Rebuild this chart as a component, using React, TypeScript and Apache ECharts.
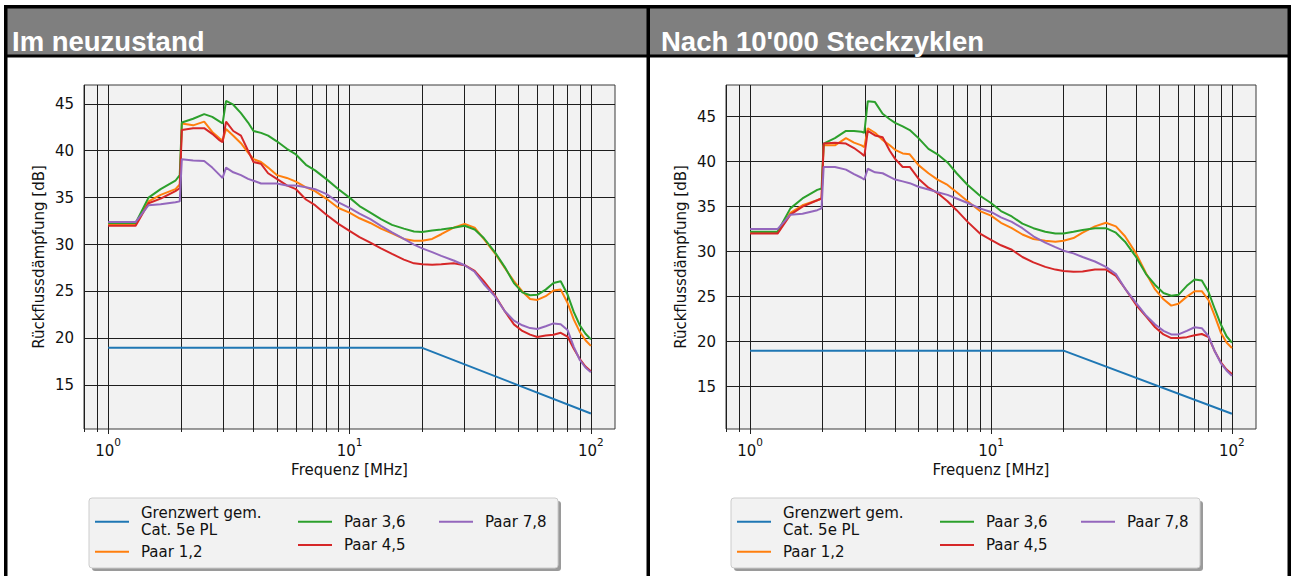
import React, { useEffect, useRef } from "react";
import * as echarts from "echarts";

const freqMHz = [1.0, 1.3, 1.47, 1.65, 1.9, 1.98, 2.02, 2.25, 2.5, 2.7, 2.9, 2.98, 3.08, 3.3, 3.55, 3.8, 4.0, 4.3, 4.6, 5.0, 5.5, 6.0, 6.6, 7.2, 8.0, 9.0, 10, 11, 12.2, 13.5, 15, 16.8, 18.5, 20, 22, 24, 27, 30, 33, 36, 40, 44, 48, 52, 56, 60, 65, 70, 75, 80, 85, 90, 95, 100];

// Limit line (Cat. 5e PL)
const limitFreq = [1, 20, 100];
const limitDb = [19, 19, 12];

// Panel 1: Im neuzustand
const neuPaar12 = [32.2, 32.2, 34.6, 35.3, 35.9, 36.4, 42.9, 42.7, 43.1, 42.0, 41.3, 41.1, 42.3, 41.6, 40.8, 39.8, 39.1, 38.8, 38.2, 37.4, 37.1, 36.7, 36.1, 35.7, 34.9, 33.9, 33.4, 32.8, 32.3, 31.7, 31.2, 30.6, 30.4, 30.4, 30.6, 31.1, 31.8, 32.2, 31.8, 30.6, 29.1, 27.5, 26.1, 25.0, 24.2, 24.1, 24.5, 25.1, 25.2, 23.8, 22.0, 20.7, 19.8, 19.2];
const neuPaar36 = [32.3, 32.3, 35.0, 35.9, 36.8, 37.4, 43.0, 43.4, 43.9, 43.6, 43.1, 42.9, 45.3, 44.9, 44.0, 43.0, 42.1, 41.9, 41.6, 41.0, 40.2, 39.6, 38.5, 37.9, 37.0, 35.9, 35.0, 34.1, 33.4, 32.7, 32.1, 31.7, 31.4, 31.35, 31.5, 31.6, 31.8, 32.0, 31.6, 30.7, 29.2, 27.6, 25.9, 24.9, 24.6, 24.65, 25.2, 25.9, 26.1, 24.7, 22.8, 21.4, 20.5, 19.9];
const neuPaar45 = [32.0, 32.0, 34.4, 34.9, 35.7, 36.0, 42.2, 42.4, 42.4, 41.8, 41.1, 40.9, 43.1, 42.1, 41.6, 40.0, 38.8, 38.6, 37.6, 37.0, 36.3, 35.9, 34.8, 34.2, 33.2, 32.2, 31.45, 30.8, 30.2, 29.6, 29.0, 28.4, 28.0, 27.9, 27.85, 27.9, 28.0, 27.8, 27.2, 26.1, 24.6, 22.9, 21.5, 20.8, 20.4, 20.15, 20.3, 20.4, 20.6, 20.2, 18.9, 17.8, 17.0, 16.5];
const neuPaar78 = [32.4, 32.4, 34.2, 34.3, 34.5, 34.6, 39.1, 38.95, 38.9, 38.2, 37.4, 37.1, 38.2, 37.7, 37.4, 37.0, 36.8, 36.5, 36.5, 36.5, 36.3, 36.3, 36.1, 35.9, 35.4, 34.5, 33.9, 33.3, 32.7, 32.0, 31.3, 30.6, 30.0, 29.6, 29.2, 28.8, 28.3, 27.8, 27.1, 25.8, 24.5, 22.9, 21.9, 21.4, 21.1, 21.0, 21.3, 21.6, 21.5, 20.9, 19.1, 17.7, 16.9, 16.4];

// Panel 2: Nach 10'000 Steckzyklen
const stkPaar12 = [32.1, 32.1, 34.3, 35.15, 35.7, 35.9, 41.8, 41.8, 42.6, 42.1, 41.8, 41.6, 43.7, 43.2, 42.4, 41.8, 41.3, 40.9, 40.8, 39.6, 38.7, 38.0, 37.4, 36.6, 35.6, 34.5, 34.0, 33.2, 32.6, 31.9, 31.4, 31.2, 31.1, 31.2, 31.5, 32.1, 32.8, 33.2, 32.8, 31.7, 29.8, 27.6, 25.8, 24.7, 24.0, 24.2, 25.0, 25.6, 25.6, 24.6, 22.8, 21.0, 19.9, 19.3];
const stkPaar36 = [32.2, 32.2, 34.8, 35.9, 36.85, 37.0, 42.0, 42.6, 43.4, 43.4, 43.3, 43.2, 46.7, 46.6, 45.3, 44.7, 44.3, 43.9, 43.5, 42.6, 41.4, 40.8, 39.9, 38.7, 37.4, 36.2, 35.4, 34.5, 33.9, 33.1, 32.6, 32.2, 32.0, 32.0, 32.2, 32.4, 32.6, 32.6, 32.1, 31.1, 29.4, 27.5, 26.3, 25.4, 25.1, 25.2, 26.2, 26.9, 26.8, 25.5, 23.6, 21.9, 20.6, 19.9];
const stkPaar45 = [32.0, 32.0, 34.1, 35.0, 35.7, 35.9, 42.0, 42.1, 42.0, 41.5, 40.9, 40.6, 43.4, 42.9, 42.7, 41.2, 40.3, 39.4, 39.4, 38.1, 37.1, 36.5, 35.6, 34.6, 33.3, 32.0, 31.3, 30.7, 30.2, 29.4, 28.8, 28.3, 28.0, 27.85, 27.75, 27.8, 28.0, 28.0, 27.3, 25.9, 24.1, 22.8, 21.6, 20.8, 20.4, 20.4, 20.5, 20.7, 20.85, 20.5, 18.9, 17.7, 16.9, 16.4];
const stkPaar78 = [32.5, 32.5, 34.1, 34.2, 34.6, 34.8, 39.4, 39.4, 39.1, 38.6, 38.2, 38.0, 39.2, 38.8, 38.7, 38.3, 38.0, 37.8, 37.6, 37.2, 36.9, 36.6, 36.3, 35.9, 35.4, 34.8, 34.4, 33.8, 33.3, 32.6, 31.7, 31.0, 30.5, 30.1, 29.8, 29.4, 28.9, 28.3, 27.5, 25.9, 24.3, 22.9, 21.9, 21.2, 20.8, 20.8, 21.2, 21.6, 21.5, 20.6, 18.9, 17.6, 16.8, 16.2];

// Tick positions
const xMajorTicks = [1, 10, 100];
const xMinorTicks = [0.8, 0.9, 2, 3, 4, 5, 6, 7, 8, 9, 20, 30, 40, 50, 60, 70, 80, 90];
const yTicks = [15, 20, 25, 30, 35, 40, 45];

const seriesNames = ["Grenzwert gem.\nCat. 5e PL", "Paar 1,2", "Paar 3,6", "Paar 4,5", "Paar 7,8"];
const seriesColors = ["#1f77b4", "#ff7f0e", "#2ca02c", "#d62728", "#9467bd"];

const FONT = "DejaVu Sans";
const GRID_COLOR = "#1e1e1e";

const panels = [
  { title: "Im neuzustand", gridLeft: 84, gridWidth: 531, yMin: 10.35, yMax: 47.0, dx: 0, values: [neuPaar12, neuPaar36, neuPaar45, neuPaar78] },
  { title: "Nach 10'000 Steckzyklen", gridLeft: 726, gridWidth: 530, yMin: 10.3, yMax: 48.5, dx: 642, values: [stkPaar12, stkPaar36, stkPaar45, stkPaar78] },
];

function buildOption() {
  const log10 = (v: number) => Math.log10(v);
  const grid = panels.map((p) => ({
    left: p.gridLeft, top: 85, width: p.gridWidth, height: 344,
    show: true, backgroundColor: "#f2f2f2", borderColor: "#3a3a3a", borderWidth: 1, containLabel: false,
  }));

  const xAxis: any[] = [];
  panels.forEach((p, i) => {
    xAxis.push({
      type: "log", gridIndex: i, logBase: 10, min: Math.pow(10, -0.1), max: Math.pow(10, 2.1), show: false,
    });
    xAxis.push({
      type: "value", gridIndex: i, position: "bottom", min: -0.1, max: 2.1,
      axisLine: { show: false },
      axisTick: { show: true, customValues: [...xMinorTicks, ...xMajorTicks].map(log10), length: 3, lineStyle: { color: "#222" } },
      axisLabel: {
        customValues: xMajorTicks.map(log10), margin: 7,
        formatter: (v: number) => `{b|10}{s|${Math.round(v)}}`,
        rich: {
          b: { fontFamily: FONT, fontSize: 15, color: "#111", lineHeight: 22, verticalAlign: "bottom" },
          s: { fontFamily: FONT, fontSize: 10.5, color: "#111", lineHeight: 12, verticalAlign: "top" },
        },
      },
      splitLine: { show: true, lineStyle: { color: GRID_COLOR, width: 1 } },
      name: "Frequenz [MHz]", nameLocation: "middle", nameGap: 30,
      nameTextStyle: { fontFamily: FONT, fontSize: 15, color: "#111" },
    });
    xAxis.push({
      type: "value", gridIndex: i, position: "bottom", min: -0.1, max: 2.1,
      axisLine: { show: false },
      axisTick: { show: true, customValues: xMajorTicks.map(log10), length: 5, lineStyle: { color: "#222" } },
      axisLabel: { show: false }, splitLine: { show: false },
    });
  });

  const yAxis = panels.map((p, i) => ({
    type: "value", gridIndex: i, min: p.yMin, max: p.yMax,
    axisLine: { show: false },
    axisTick: { show: true, customValues: yTicks, length: 5, lineStyle: { color: "#222" } },
    axisLabel: { customValues: yTicks, margin: 10, fontFamily: FONT, fontSize: 15, color: "#111" },
    splitLine: { show: true, lineStyle: { color: GRID_COLOR, width: 1 } },
    name: "Rückflussdämpfung [dB]", nameLocation: "middle", nameGap: 38,
    nameTextStyle: { fontFamily: FONT, fontSize: 15, color: "#111" },
  }));

  const series: any[] = [];
  panels.forEach((p, i) => {
    const datasets = [
      limitFreq.map((f, k) => [f, limitDb[k]]),
      ...p.values.map((vals) => freqMHz.map((f, k) => [f, vals[k]])),
    ];
    datasets.forEach((d, k) => {
      series.push({
        type: "line", name: seriesNames[k], xAxisIndex: i * 3, yAxisIndex: i, data: d,
        showSymbol: false, symbol: "none", clip: true,
        lineStyle: { width: 2, color: seriesColors[k] }, itemStyle: { color: seriesColors[k] },
        emphasis: { disabled: true },
      });
    });
  });

  // Legends: positions within the legend boxes (icon left x, item top y)
  const legendSlots = [
    { name: seriesNames[0], x: 95, y: 504.7 },
    { name: seriesNames[1], x: 95, y: 543.2 },
    { name: seriesNames[2], x: 298, y: 513.2 },
    { name: seriesNames[3], x: 298, y: 536.5 },
    { name: seriesNames[4], x: 439, y: 513.2 },
  ];
  const legend: any[] = [];
  panels.forEach((p) => {
    legendSlots.forEach((s) => {
      legend.push({
        data: [s.name], left: s.x + p.dx, top: s.y, orient: "vertical", padding: 0,
        icon: "rect", itemWidth: 34, itemHeight: 2, selectedMode: false,
        textStyle: { fontFamily: FONT, fontSize: 15, color: "#111", lineHeight: 17, padding: [0, 0, 0, 7] },
      });
    });
  });

  const graphic: any[] = [
    { type: "rect", z: -10, shape: { x: 4, y: 5, width: 1287, height: 571 }, style: { fill: "#000" } },
    { type: "rect", z: -9, shape: { x: 7.5, y: 8.5, width: 639, height: 46 }, style: { fill: "#7f7f7f" } },
    { type: "rect", z: -9, shape: { x: 650, y: 8.5, width: 637.5, height: 46 }, style: { fill: "#7f7f7f" } },
    { type: "rect", z: -9, shape: { x: 7.5, y: 57.5, width: 639, height: 520 }, style: { fill: "#fff" } },
    { type: "rect", z: -9, shape: { x: 650, y: 57.5, width: 637.5, height: 520 }, style: { fill: "#fff" } },
  ];
  panels.forEach((p) => {
    graphic.push({
      type: "text", z: 5, x: (p.dx === 0 ? 12 : 661), y: 41,
      style: { text: p.title, fill: "#fff", font: "bold 27.5px 'Liberation Sans', Arial, sans-serif", verticalAlign: "middle", align: "left" },
    });
    graphic.push({ type: "rect", z: 1, shape: { x: 92 + p.dx, y: 501, width: 469, height: 70, r: 3 }, style: { fill: "#9a9a9a" } });
    graphic.push({ type: "rect", z: 2, shape: { x: 89 + p.dx, y: 498, width: 469, height: 70, r: 3 }, style: { fill: "#f2f2f2", stroke: "#cccccc", lineWidth: 1 } });
  });

  return { animation: false, grid, xAxis, yAxis, series, legend, graphic };
}

export default function App() {
  const ref = useRef<HTMLDivElement>(null);
  useEffect(() => {
    if (!ref.current) return;
    const chart = echarts.init(ref.current, null, { renderer: "svg" });
    chart.setOption(buildOption() as any);
    return () => chart.dispose();
  }, []);
  return <div ref={ref} style={{ position: "absolute", left: 0, top: 0, width: 1294, height: 576 }} />;
}
